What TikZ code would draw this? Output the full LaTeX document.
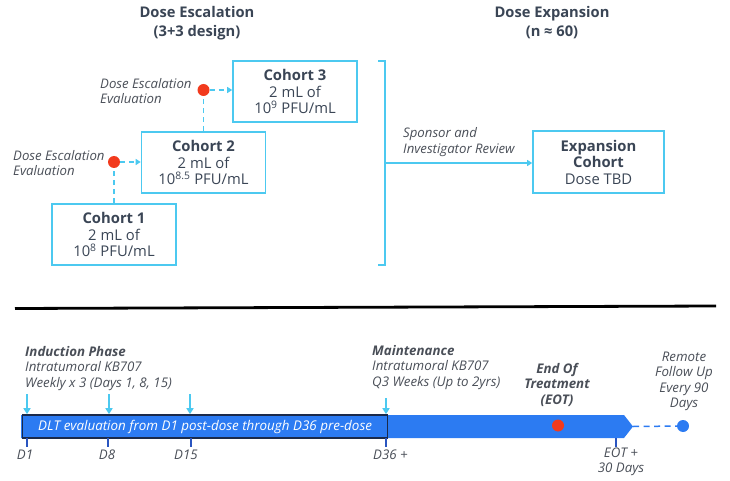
\documentclass[tikz,border=0pt]{standalone}
\usepackage{fontspec}
\setmainfont{Open Sans}
\usetikzlibrary{arrows.meta}
\definecolor{txt}{HTML}{3A4555}
\definecolor{labc}{HTML}{4A4F58}
\definecolor{cy}{HTML}{4CC9F0}
\definecolor{rd}{HTML}{F23A1D}
\definecolor{bl}{HTML}{2C7BF2}
\definecolor{nv}{HTML}{1B2A4A}
\definecolor{tk}{HTML}{2A55C0}
\tikzset{
  cbox/.style={draw=cy, line width=1.6pt, minimum width=124pt, minimum height=61pt, inner sep=0pt, align=center, text=txt, font=\fontsize{14.8}{16.5}\selectfont},
  ttl/.style={text=txt, align=center, inner sep=0pt, font=\bfseries\fontsize{14.7}{19}\selectfont},
  lab/.style={text=labc, inner sep=0pt, align=left, font=\itshape\fontsize{13.2}{15.5}\selectfont},
  tlab/.style={text=labc, inner sep=0pt, align=left, font=\itshape\fontsize{13.3}{15.5}\selectfont},
  rdot/.style={circle, fill=rd, inner sep=0pt, minimum size=12pt},
  bdot/.style={circle, fill=bl, inner sep=0pt, minimum size=12pt},
  cdash/.style={cy, line width=1.5pt, dash pattern=on 5pt off 4pt},
  tip/.style={-{Triangle[length=5pt,width=6pt]}},
  down/.style={cy, line width=1.5pt, -{Triangle[length=6pt,width=7pt]}},
  tick/.style={tk, line width=1.5pt}
}
\begin{document}
\begin{tikzpicture}[x=1pt,y=-1pt]
\useasboundingbox (0,0) rectangle (730,481);

% titles
\node[ttl] (t1) at (197,23.5) {Dose Escalation\\(3+3 design)};
\node[ttl] (t2) at (552,23) {Dose Expansion\\(n ≈ 60)};

% cohorts
\node[cbox] (c1) at (114,234.5) {\textbf{Cohort 1}\\2 mL of\\10\textsuperscript{8} PFU/mL};
\node[cbox] (c2) at (203.5,162.5) {\textbf{Cohort 2}\\2 mL of\\10\textsuperscript{8.5} PFU/mL};
\node[cbox] (c3) at (295,91.5) {\textbf{Cohort 3}\\2 mL of\\10\textsuperscript{9} PFU/mL};

\node[rdot] (d1) at (114,162) {};
\node[rdot] (d2) at (203.5,90) {};

\draw[cdash] (c1.north) -- (d1);
\draw[cdash,tip] (d1) -- (d1 -| c2.west);
\draw[cdash] (c2.north) -- (d2);
\draw[cdash,tip] (d2) -- (d2 -| c3.west);

\node[lab, anchor=west] (e1) at (13,163) {Dose Escalation\\Evaluation};
\node[lab, anchor=west] (e2) at (100,91) {Dose Escalation\\Evaluation};

% bracket and expansion
\coordinate (b1) at (378,61);
\coordinate (b2) at (385,61);
\coordinate (b3) at (385,265);
\coordinate (b4) at (378,265);
\coordinate (bm) at (385,163);
\draw[cy, line width=1.6pt] (b1) -- (b2) -- (b3) -- (b4);
\node[cbox, minimum width=131pt, minimum height=62pt] (ex) at (598.5,162) {\textbf{Expansion}\\\textbf{Cohort}\\Dose TBD};
\draw[cy, line width=1.5pt, tip] (bm) -- (bm -| ex.west);
\node[lab, anchor=west] (sp) at (403,142) {Sponsor and\\Investigator Review};

% separator
\coordinate (s1) at (15,308.5);
\coordinate (s2) at (716,306);
\draw[black, line width=2.8pt] (s1) -- (s2);

% timeline bar
\coordinate (r0) at (21,415);
\coordinate (r1) at (624,415);
\coordinate (rt) at (633,426.5);
\coordinate (r2) at (624,438);
\coordinate (r3) at (21,438);
\fill[bl] (r0) -- (r1) -- (rt) -- (r2) -- (r3) -- cycle;
\node[draw=nv, line width=1.6pt, minimum width=365pt, minimum height=23pt, inner sep=0pt, anchor=west,
  text=white, font=\itshape\fontsize{13.4}{15}\selectfont] (dlt) at (21.8,426.5)
  {DLT evaluation from D1 post-dose through D36 pre-dose};

% arrows above
\coordinate (a1) at (27,394);
\coordinate (a2) at (109,394);
\coordinate (a3) at (190,394);
\coordinate (a4) at (386,398);
\draw[down] (a1) -- (a1 |- dlt.north);
\draw[down] (a2) -- (a2 |- dlt.north);
\draw[down] (a3) -- (a3 |- dlt.north);
\draw[down] (a4) -- (a4 |- dlt.north);

% ticks below
\coordinate (k1) at (27,447);
\coordinate (k2) at (108,447);
\coordinate (k3) at (191,447);
\coordinate (k4) at (386,447);
\coordinate (k5) at (616,447);
\foreach \k in {k1,k2,k3,k4,k5} \draw[tick] (\k |- r3) -- (\k);

% labels below
\node[tlab] (x1) at (25,455) {D1};
\node[tlab] (x2) at (107,455) {D8};
\node[tlab] (x3) at (186,455) {D15};
\node[tlab, anchor=west] (x4) at (373,455) {D36 +};
\node[tlab, align=center] (x5) at (621,462) {EOT +\\30 Days};

% phase texts
\node[tlab, anchor=west] (ip) at (25,368.5) {\textbf{Induction Phase}\\Intratumoral KB707\\Weekly x 3 (Days 1, 8, 15)};
\node[tlab, anchor=west] (mp) at (372,367.5) {\textbf{Maintenance}\\Intratumoral KB707\\Q3 Weeks (Up to 2yrs)};
\node[tlab, align=center] (eot) at (557,384.5) {\textbf{End Of}\\\textbf{Treatment}\\\textbf{(EOT)}};
\node[tlab, align=center] (rf) at (684,381.5) {Remote\\Follow Up\\Every 90\\Days};

% dots on the timeline
\node[rdot] (ed) at (558,425.5) {};
\node[bdot] (fd) at (683,426) {};
\draw[bl, line width=1.5pt, dash pattern=on 6pt off 4.5pt] (rt) -- (fd);
\end{tikzpicture}
\end{document}
